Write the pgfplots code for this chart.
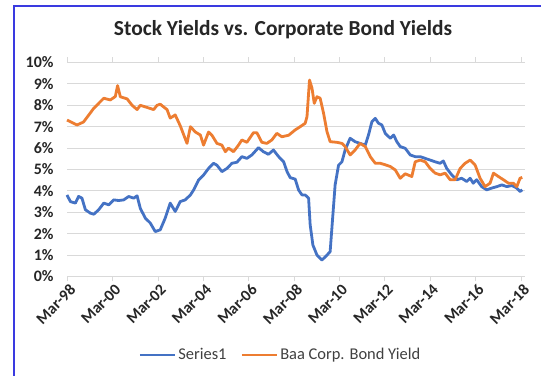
\documentclass[border=0pt]{standalone}
\usepackage{fontspec}
\setmainfont{Carlito}
\usepackage{pgfplots}
\pgfplotsset{compat=1.18}
\definecolor{sblue}{HTML}{4472C4}
\definecolor{sorange}{HTML}{ED7D31}
\definecolor{gridc}{HTML}{D9D9D9}
\definecolor{txt}{HTML}{262626}
\definecolor{legtxt}{HTML}{404040}
\definecolor{frame}{HTML}{3A3AE0}
\begin{document}
\begin{tikzpicture}
\useasboundingbox (0,0) rectangle (541bp,376bp);
\fill[white] (0,0) rectangle (541bp,376bp);
\draw[frame, line width=2bp] (14bp,0) -- (14bp,370bp) -- (541bp,370bp);
\node[font=\bfseries\fontsize{21.5}{24}\selectfont, text=txt] at (283bp,346bp) {Stock Yields vs. Corporate Bond Yields};
\begin{axis}[
  at={(67bp,99.5bp)}, anchor=south west,
  scale only axis, width=458bp, height=214bp,
  xmin=1998.15, xmax=2018.34, ymin=0, ymax=10,
  axis line style={draw=none},
  ymajorgrids, grid style={gridc, line width=1bp},
  ytick={0,1,...,10},
  yticklabel={\pgfmathprintnumber{\tick}\%},
  ytick style={draw=none},
  y tick label style={xshift=-5bp},
  xtick={1998.167,2000.167,2002.167,2004.167,2006.167,2008.167,2010.167,2012.167,2014.167,2016.167,2018.167},
  xticklabels={Mar-98,Mar-00,Mar-02,Mar-04,Mar-06,Mar-08,Mar-10,Mar-12,Mar-14,Mar-16,Mar-18},
  tick align=outside, major tick length=5bp,
  xtick style={draw=gridc, line width=1bp},
  x tick label style={rotate=45, anchor=north east, inner sep=2bp, xshift=2bp},
  ticklabel style={font=\bfseries\fontsize{16}{16}\selectfont, text=txt},
  /pgf/number format/assume math mode=true,
  legend style={at={(0.466,-0.367)}, anchor=center, draw=none, fill=none,
    legend columns=2, font=\fontsize{16.5}{16.5}\selectfont, text=legtxt,
    inner sep=0pt,
    /tikz/every even column/.append style={column sep=12bp}},
  legend image code/.code={\draw[#1] (0bp,0bp) -- (35bp,0bp);},
  every axis plot/.append style={line width=2.8bp, line join=round},
  clip=false,
]
\addplot[sblue] table {
1998.15 3.81
1998.30 3.50
1998.52 3.43
1998.66 3.74
1998.81 3.66
1998.96 3.12
1999.18 2.96
1999.33 2.91
1999.55 3.12
1999.77 3.43
1999.99 3.35
2000.21 3.58
2000.43 3.55
2000.65 3.58
2000.87 3.74
2001.09 3.66
2001.24 3.77
2001.38 3.19
2001.60 2.73
2001.82 2.50
2002.04 2.10
2002.26 2.18
2002.48 2.73
2002.70 3.43
2002.92 3.04
2003.14 3.50
2003.36 3.58
2003.59 3.81
2003.73 4.04
2003.95 4.51
2004.17 4.74
2004.39 5.05
2004.61 5.29
2004.76 5.20
2004.98 4.90
2005.20 5.05
2005.42 5.29
2005.64 5.34
2005.86 5.60
2006.08 5.52
2006.30 5.68
2006.59 6.02
2006.81 5.83
2007.03 5.71
2007.25 5.91
2007.48 5.60
2007.70 5.36
2007.85 4.90
2007.99 4.62
2008.21 4.55
2008.36 4.04
2008.51 3.81
2008.65 3.81
2008.80 3.66
2008.87 2.41
2008.99 1.47
2009.17 1.00
2009.39 0.77
2009.61 1.00
2009.75 1.16
2009.87 2.87
2009.97 4.28
2010.12 5.20
2010.27 5.36
2010.41 5.91
2010.63 6.46
2010.85 6.30
2011.07 6.22
2011.30 6.14
2011.44 6.61
2011.59 7.23
2011.74 7.39
2011.88 7.16
2012.03 7.08
2012.18 6.69
2012.40 6.46
2012.55 6.61
2012.69 6.30
2012.84 6.07
2013.06 5.99
2013.28 5.68
2013.50 5.60
2013.72 5.60
2013.94 5.52
2014.16 5.44
2014.38 5.36
2014.60 5.29
2014.74 5.40
2014.89 5.05
2015.11 4.75
2015.33 4.52
2015.55 4.59
2015.77 4.44
2015.92 4.59
2016.06 4.36
2016.21 4.52
2016.43 4.20
2016.65 4.05
2016.87 4.13
2017.10 4.20
2017.32 4.28
2017.54 4.20
2017.76 4.25
2017.98 4.13
2018.12 3.97
2018.22 4.05
};
\addlegendentry{Series1}
\addplot[sorange] table {
1998.15 7.31
1998.59 7.08
1998.88 7.22
1999.33 7.86
1999.77 8.33
2000.06 8.25
2000.28 8.41
2000.38 8.92
2000.50 8.40
2000.80 8.30
2001.02 8.00
2001.24 7.80
2001.38 8.00
2001.68 7.90
2001.97 7.80
2002.12 8.00
2002.26 8.05
2002.56 7.80
2002.70 7.40
2002.92 7.55
2003.14 7.05
2003.44 6.22
2003.59 7.00
2003.81 6.75
2004.03 6.61
2004.17 6.14
2004.39 6.75
2004.54 6.60
2004.76 6.22
2004.98 6.14
2005.13 5.83
2005.27 6.00
2005.49 5.83
2005.71 6.14
2005.86 6.38
2006.08 6.27
2006.37 6.72
2006.52 6.72
2006.74 6.27
2006.96 6.22
2007.18 6.38
2007.40 6.69
2007.62 6.53
2007.92 6.60
2008.21 6.85
2008.43 7.00
2008.65 7.16
2008.73 7.47
2008.84 9.18
2008.95 8.80
2009.05 8.09
2009.17 8.40
2009.31 8.33
2009.46 7.63
2009.61 6.77
2009.75 6.30
2010.05 6.27
2010.27 6.22
2010.41 6.07
2010.63 5.68
2010.85 5.91
2011.07 6.22
2011.30 6.07
2011.52 5.60
2011.74 5.29
2011.96 5.29
2012.18 5.22
2012.40 5.14
2012.62 4.98
2012.84 4.59
2013.06 4.80
2013.35 4.67
2013.50 5.36
2013.72 5.44
2013.94 5.36
2014.16 5.05
2014.38 4.83
2014.60 4.75
2014.82 4.83
2015.04 4.52
2015.26 4.52
2015.48 5.05
2015.70 5.29
2015.92 5.44
2016.14 5.21
2016.36 4.59
2016.58 4.20
2016.80 4.36
2016.95 4.83
2017.17 4.67
2017.39 4.52
2017.61 4.36
2017.83 4.36
2017.98 4.20
2018.12 4.59
2018.22 4.63
};
\addlegendentry{Baa Corp. Bond Yield}
\end{axis}
\end{tikzpicture}
\end{document}
